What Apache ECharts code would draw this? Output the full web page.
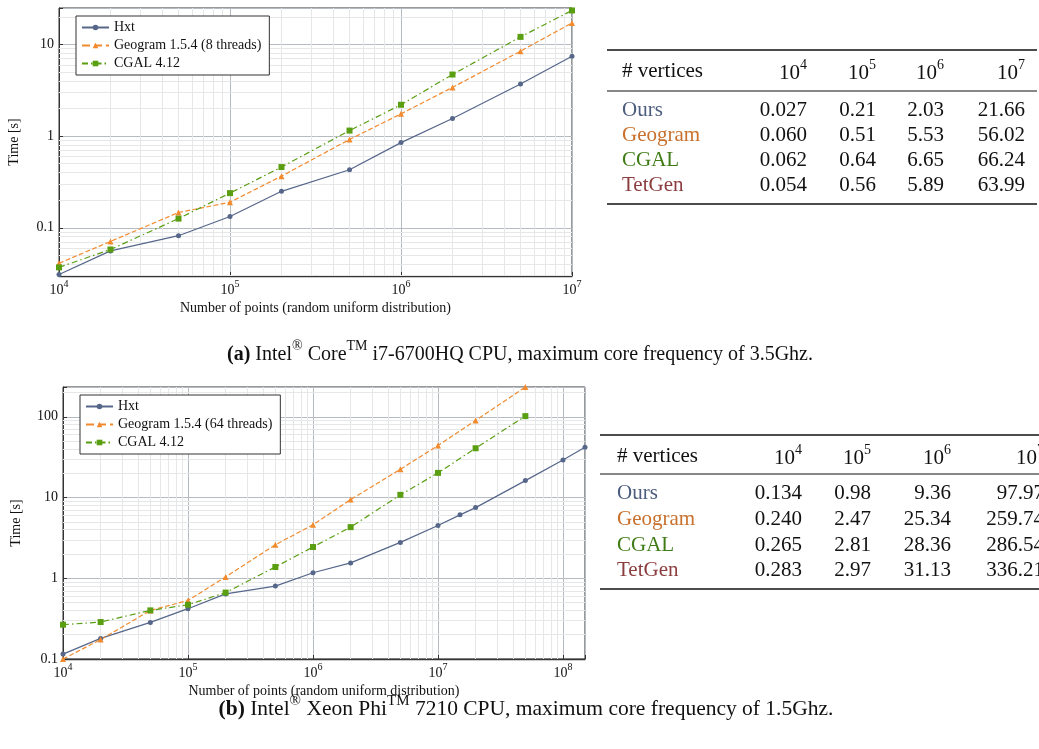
<!DOCTYPE html>
<html><head><meta charset="utf-8">
<script src="https://cdn.jsdelivr.net/npm/echarts@6/dist/echarts.min.js"></script>
<style>html,body{margin:0;padding:0;background:#fff}#c{width:1039px;height:749px}</style>
</head><body><div id="c"></div>
<script>
// ---- Chart (a) data ----
const xA = [1e4, 2e4, 5e4, 1e5, 2e5, 5e5, 1e6, 2e6, 5e6, 1e7];
const hxtA = [0.031, 0.056, 0.082, 0.133, 0.25, 0.43, 0.85, 1.56, 3.7, 7.45];
const geoA = [0.041, 0.071, 0.147, 0.19, 0.366, 0.92, 1.75, 3.4, 8.45, 17.2];
const cgalA = [0.037, 0.058, 0.126, 0.239, 0.46, 1.15, 2.2, 4.7, 12.1, 23.5];
const rangeA = {xmin: 1e4, xmax: 1e7, ymin: 0.0298, ymax: 25};
// ---- Chart (b) data ----
const xBHxt = [1e4, 2e4, 5e4, 1e5, 2e5, 5e5, 1e6, 2e6, 5e6, 1e7, 1.5e7, 2e7, 5e7, 1e8, 1.5e8];
const hxtB = [0.115, 0.18, 0.284, 0.42, 0.64, 0.80, 1.17, 1.55, 2.78, 4.5, 6.1, 7.5, 16.2, 29.2, 42];
const xB = [1e4, 2e4, 5e4, 1e5, 2e5, 5e5, 1e6, 2e6, 5e6, 1e7, 2e7, 5e7];
const geoB = [0.1, 0.174, 0.40, 0.53, 1.04, 2.6, 4.6, 9.45, 22.4, 44, 90, 234];
const cgalB = [0.266, 0.287, 0.40, 0.47, 0.665, 1.38, 2.44, 4.3, 10.8, 20.2, 40.8, 102];
const rangeB = {xmin: 1e4, xmax: 1.5e8, ymin: 0.1, ymax: 234};
// ---- Labels ----
const legendA = ['Hxt', 'Geogram 1.5.4 (8 threads)', 'CGAL 4.12'];
const legendB = ['Hxt', 'Geogram 1.5.4 (64 threads)', 'CGAL 4.12'];
const xName = 'Number of points (random uniform distribution)';
const yName = 'Time [s]';
// ---- Tables ----
const tblHeadExp = [4, 5, 6, 7];
const tblRows = ['Ours', 'Geogram', 'CGAL', 'TetGen'];
const tblA = [
  ['0.027', '0.21', '2.03', '21.66'],
  ['0.060', '0.51', '5.53', '56.02'],
  ['0.062', '0.64', '6.65', '66.24'],
  ['0.054', '0.56', '5.89', '63.99']
];
const tblB = [
  ['0.134', '0.98', '9.36', '97.97'],
  ['0.240', '2.47', '25.34', '259.74'],
  ['0.265', '2.81', '28.36', '286.54'],
  ['0.283', '2.97', '31.13', '336.21']
];
const captionA = ['(a)', 'Intel', '®', ' Core', 'TM', ' i7-6700HQ CPU, maximum core frequency of 3.5Ghz.'];
const captionB = ['(b)', 'Intel', '®', ' Xeon Phi', 'TM', ' 7210 CPU, maximum core frequency of 1.5Ghz.'];

const FONT = 'Liberation Serif';
const C_HXT = '#56678a', C_GEO = '#f28a2e', C_CGAL = '#5a9e12';
const ROWCOL = ['#4d5d7e', '#c8702c', '#3f7c16', '#8b3d3f'];

function isPow10(v) { const e = Math.log10(v); return Math.abs(e - Math.round(e)) < 1e-6; }
function xLabel(v) { if (!isPow10(v)) return ''; return '{n|10}{s|' + Math.round(Math.log10(v)) + '}'; }
function yLabel(v) { if (!isPow10(v)) return ''; return String(Number(v.toPrecision(1))); }
function minorVals(lo, hi) {
  const out = [];
  for (let e = Math.floor(Math.log10(lo)); e <= Math.ceil(Math.log10(hi)); e++) {
    for (let k = 2; k <= 9; k++) {
      const v = k * Math.pow(10, e);
      if (v > lo * 1.0001 && v < hi * 0.9999) out.push(v);
    }
  }
  return out;
}
const axRich = {
  n: {fontSize: 14, fontFamily: FONT, color: '#111', lineHeight: 18, verticalAlign: 'bottom'},
  s: {fontSize: 10, fontFamily: FONT, color: '#111', lineHeight: 10, verticalAlign: 'top'}
};
function xAxisCfg(gi, r) {
  return {
    type: 'log', logBase: 10, gridIndex: gi, min: r.xmin, max: r.xmax,
    name: xName, nameLocation: 'middle', nameGap: 25,
    nameTextStyle: {fontFamily: FONT, fontSize: 14, color: '#111'},
    axisLine: {show: true, lineStyle: {color: '#333', width: 1.3}},
    axisTick: {show: true, inside: true, length: 4, lineStyle: {color: '#333'}},
    axisLabel: {formatter: xLabel, rich: axRich, margin: 3, showMinLabel: true, showMaxLabel: true},
    splitLine: {show: true, lineStyle: {color: '#b6bac1', width: 1}}
  };
}
function yAxisCfg(gi, r, gap) {
  return {
    type: 'log', logBase: 10, gridIndex: gi, min: r.ymin, max: r.ymax,
    name: yName, nameLocation: 'middle', nameGap: gap, nameRotate: 90,
    nameTextStyle: {fontFamily: FONT, fontSize: 14, color: '#111'},
    axisLine: {show: true, lineStyle: {color: '#333', width: 1}},
    axisTick: {show: true, inside: true, length: 4, lineStyle: {color: '#333'}},
    axisLabel: {formatter: yLabel, fontFamily: FONT, fontSize: 14, color: '#111', margin: 5},
    splitLine: {show: true, lineStyle: {color: '#b6bac1', width: 1}}
  };
}
function minorSeries(gi, r) {
  const d = [];
  minorVals(r.xmin, r.xmax).forEach(v => d.push({xAxis: v}));
  minorVals(r.ymin, r.ymax).forEach(v => d.push({yAxis: v}));
  return {
    type: 'line', xAxisIndex: gi, yAxisIndex: gi, data: [], silent: true, z: 1,
    markLine: {silent: true, z: 1, symbol: ['none', 'none'], label: {show: false},
      lineStyle: {color: '#e6e7e9', width: 1, type: 'solid'}, emphasis: {disabled: true}, data: d}
  };
}
function zip(xs, ys) { return xs.map((x, i) => [x, ys[i]]); }
function lineSeries(name, gi, xs, ys, color, dash, sym, size) {
  return {
    name: name, type: 'line', xAxisIndex: gi, yAxisIndex: gi, data: zip(xs, ys), z: 3,
    symbol: sym, symbolSize: size, showSymbol: true,
    lineStyle: {color: color, width: 1.2, type: dash},
    itemStyle: {color: color}, emphasis: {disabled: true}
  };
}
const legendCommon = {
  orient: 'vertical', selectedMode: false, backgroundColor: '#fff',
  borderColor: '#333', borderWidth: 1, borderRadius: 0,
  padding: [4, 8, 4, 5], itemGap: 3, itemWidth: 27, itemHeight: 7,
  textStyle: {fontFamily: FONT, fontSize: 14, color: '#111', lineHeight: 15}
};

// ---- Tables as graphics ----
const graphics = [];
function addTable(t, vals) {
  graphics.push({type: 'line', shape: {x1: t.x0, y1: t.top, x2: t.x1, y2: t.top}, style: {stroke: '#111', lineWidth: 1.6}});
  graphics.push({type: 'line', shape: {x1: t.x0, y1: t.mid, x2: t.x1, y2: t.mid}, style: {stroke: '#111', lineWidth: 1}});
  graphics.push({type: 'line', shape: {x1: t.x0, y1: t.bot, x2: t.x1, y2: t.bot}, style: {stroke: '#111', lineWidth: 1.6}});
  graphics.push({type: 'text', x: t.nameX, y: t.headY, style: {text: '# vertices', font: '21px ' + FONT, fill: '#111', align: 'left', verticalAlign: 'middle'}});
  tblHeadExp.forEach((e, j) => {
    graphics.push({type: 'text', x: t.cols[j], y: t.headY, style: {
      text: '{n|10}{s|' + e + '}', align: 'right', verticalAlign: 'middle',
      rich: {n: {fontSize: 21, fontFamily: FONT, fill: '#111', lineHeight: 26, verticalAlign: 'bottom'},
             s: {fontSize: 14, fontFamily: FONT, fill: '#111', lineHeight: 14, verticalAlign: 'top'}}}});
  });
  tblRows.forEach((rn, i) => {
    const y = t.rowY[i];
    graphics.push({type: 'text', x: t.nameX, y: y, style: {text: rn, font: '21px ' + FONT, fill: ROWCOL[i], align: 'left', verticalAlign: 'middle'}});
    vals[i].forEach((v, j) => {
      graphics.push({type: 'text', x: t.cols[j], y: y, style: {text: v, font: '21px ' + FONT, fill: '#111', align: 'right', verticalAlign: 'middle'}});
    });
  });
}
addTable({x0: 607, x1: 1037, top: 50, mid: 91, bot: 204, headY: 71, nameX: 622, rowY: [110, 135, 160, 185], cols: [807, 876, 944, 1025]}, tblA);
addTable({x0: 600, x1: 1039, top: 435, mid: 474, bot: 589, headY: 456, nameX: 617, rowY: [493, 519, 545, 570], cols: [802, 871, 951, 1044]}, tblB);

function addCaption(parts, cx, cy, fs) {
  const txt = '{b|' + parts[0] + '}{n| ' + parts[1] + '}{s|' + parts[2] + '}{n|' + parts[3] + '}{s|' + parts[4] + '}{n|' + parts[5] + '}';
  const lh = Math.round(fs * 1.25);
  graphics.push({type: 'text', x: cx, y: cy, style: {
    text: txt, align: 'center', verticalAlign: 'middle',
    rich: {
      b: {fontSize: fs, fontFamily: FONT, fontWeight: 'bold', fill: '#111', lineHeight: lh, verticalAlign: 'bottom'},
      n: {fontSize: fs, fontFamily: FONT, fill: '#111', lineHeight: lh, verticalAlign: 'bottom'},
      s: {fontSize: Math.round(fs * 0.7), fontFamily: FONT, fill: '#111', lineHeight: Math.round(fs * 0.7), verticalAlign: 'top'}
    }}});
}
addCaption(captionA, 520, 352, 20);
addCaption(captionB, 526, 707, 21.5);

const option = {
  animation: false,
  backgroundColor: '#fff',
  grid: [
    {left: 59, top: 8, width: 513, height: 268, show: true, borderColor: '#333', borderWidth: 1, backgroundColor: 'transparent'},
    {left: 63, top: 387, width: 522, height: 272, show: true, borderColor: '#333', borderWidth: 1, backgroundColor: 'transparent'}
  ],
  xAxis: [xAxisCfg(0, rangeA), xAxisCfg(1, rangeB)],
  yAxis: [yAxisCfg(0, rangeA, 38), yAxisCfg(1, rangeB, 40)],
  legend: [
    Object.assign({left: 76, top: 16, data: legendA}, legendCommon),
    Object.assign({left: 80, top: 395, data: legendB}, legendCommon)
  ],
  series: [
    minorSeries(0, rangeA),
    minorSeries(1, rangeB),
    lineSeries(legendA[0], 0, xA, hxtA, C_HXT, 'solid', 'circle', 5),
    lineSeries(legendA[1], 0, xA, geoA, C_GEO, 'dashed', 'triangle', 6),
    lineSeries(legendA[2], 0, xA, cgalA, C_CGAL, [6, 3, 1.5, 3], 'rect', 6),
    lineSeries(legendB[0], 1, xBHxt, hxtB, C_HXT, 'solid', 'circle', 5),
    lineSeries(legendB[1], 1, xB, geoB, C_GEO, 'dashed', 'triangle', 6),
    lineSeries(legendB[2], 1, xB, cgalB, C_CGAL, [6, 3, 1.5, 3], 'rect', 6)
  ],
  graphic: graphics
};
const chart = echarts.init(document.getElementById('c'));
chart.setOption(option);
</script>
</body></html>
